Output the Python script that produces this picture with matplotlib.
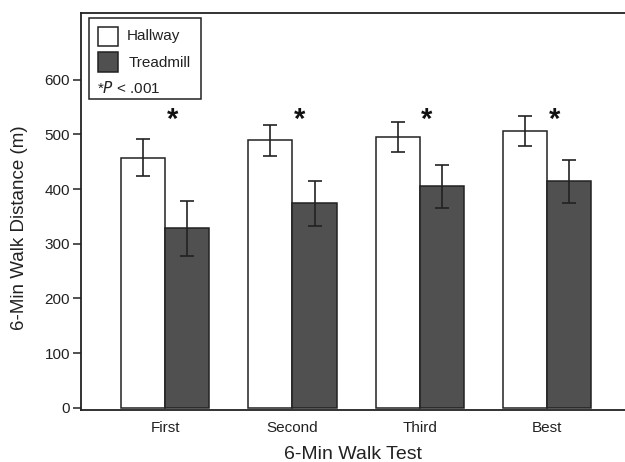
import matplotlib
matplotlib.use("Agg")
import matplotlib.pyplot as plt
from matplotlib.patches import Rectangle
import numpy as np

plt.rcParams['font.family'] = ['Liberation Sans', 'DejaVu Sans']

categories = ["First", "Second", "Third", "Best"]
hallway = [457, 489, 495, 506]
hallway_err = [34, 28, 27, 27]
treadmill = [328, 374, 405, 414]
treadmill_err = [50, 41, 39, 39]
yticks = [0, 100, 200, 300, 400, 500, 600]
star_y = 526

fig = plt.figure(figsize=(6.25, 4.62), dpi=100)
ax = fig.add_axes([0.1296, 0.1126, 0.8704, 0.8593])

x = np.arange(len(categories))
w = 0.347
edge = "#222222"
ax.bar(x - w/2, hallway, w, color="white", edgecolor=edge, linewidth=1.1,
       yerr=hallway_err, capsize=5, error_kw=dict(ecolor=edge, elinewidth=1.2, capthick=1.2))
ax.bar(x + w/2, treadmill, w, color="#505050", edgecolor=edge, linewidth=1.1,
       yerr=treadmill_err, capsize=5, error_kw=dict(ecolor=edge, elinewidth=1.2, capthick=1.2))

for xi in x:
    ax.text(xi + 0.055, star_y, "*", ha="center", va="center", fontsize=21, fontweight="bold", color="#111111")

ax.set_xlim(-0.66, 3.61)
ax.set_ylim(-4, 722)
ax.set_yticks(yticks)
ax.set_xticks(x)
ax.set_xticklabels(categories)
ax.tick_params(axis='x', length=0, labelsize=11, pad=8, colors="#222222")
ax.tick_params(axis='y', length=6, width=1.1, labelsize=11, pad=2, colors="#222222")
for s in ["left", "bottom", "top"]:
    ax.spines[s].set_linewidth(1.3)
    ax.spines[s].set_color("#222222")
ax.spines["right"].set_visible(False)

ax.set_ylabel("6-Min Walk Distance (m)", fontsize=13.5, color="#222222")
ax.yaxis.set_label_coords(-0.097, 0.458)
ax.set_xlabel("6-Min Walk Test", fontsize=14, color="#222222", labelpad=8)

# legend box (manual)
tr = ax.transAxes
ax.add_patch(Rectangle((0.0147, 0.7834), 0.2059, 0.204, transform=tr, fill=False,
                       edgecolor="#222222", linewidth=1.1, clip_on=False))
ax.add_patch(Rectangle((0.0313, 0.9169), 0.037, 0.0478, transform=tr, facecolor="white",
                       edgecolor="#222222", linewidth=1.1))
ax.add_patch(Rectangle((0.0313, 0.8514), 0.037, 0.0504, transform=tr, facecolor="#505050",
                       edgecolor="#222222", linewidth=1.1))
ax.text(0.085, 0.942, "Hallway", transform=tr, fontsize=11, va="center", color="#222222")
ax.text(0.088, 0.875, "Treadmill", transform=tr, fontsize=11, va="center", color="#222222")
ax.text(0.0294, 0.811, "*$\\mathit{P}$ < .001", transform=tr, fontsize=11, va="center", color="#222222")

fig.savefig("out.png", dpi=100)
